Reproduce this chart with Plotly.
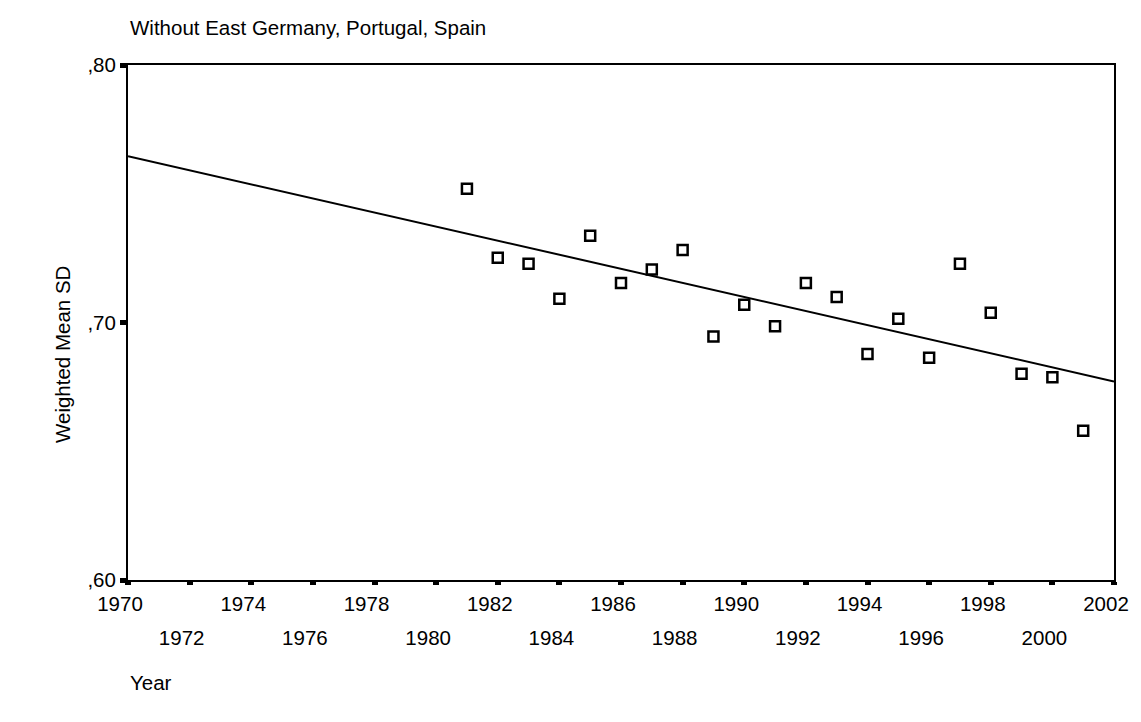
import numpy as np
import plotly.graph_objects as go

# ---- data ----
years = list(range(1981, 2002))
weighted_mean_sd = [0.7519, 0.7251, 0.7228, 0.7092, 0.7337, 0.7153, 0.7206, 0.7282,
                    0.6946, 0.7069, 0.6985, 0.7153, 0.7099, 0.6878, 0.7015, 0.6863,
                    0.7228, 0.7038, 0.6801, 0.6787, 0.6580]
x_range = [1970, 2002]
y_range = [0.60, 0.80]
x_ticks_row1 = [1970, 1974, 1978, 1982, 1986, 1990, 1994, 1998, 2002]
x_ticks_row2 = [1972, 1976, 1980, 1984, 1988, 1992, 1996, 2000]
y_tick_vals = [0.60, 0.70, 0.80]
y_tick_text = [",60", ",70", ",80"]
title_text = "Without East Germany, Portugal, Spain"
x_title = "Year"
y_title = "Weighted Mean SD"

# linear fit line
slope, intercept = np.polyfit(years, weighted_mean_sd, 1)
fit_x = x_range
fit_y = [slope * v + intercept for v in fit_x]

FONT = "Arial, Liberation Sans, sans-serif"
FS = 20.5
PAGE_MARGIN = 8  # default HTML body margin
W, H = 1141 - PAGE_MARGIN, 722 - PAGE_MARGIN

fig = go.Figure()
fig.add_trace(go.Scatter(x=fit_x, y=fit_y, mode="lines",
                         line=dict(color="black", width=2), showlegend=False,
                         hoverinfo="skip"))
fig.add_trace(go.Scatter(x=years, y=weighted_mean_sd, mode="markers",
                         marker=dict(symbol="square-open", size=10, color="black",
                                     line=dict(width=2.5, color="black")),
                         showlegend=False))
# invisible trace on the second x axis so its labels show
fig.add_trace(go.Scatter(x=x_range, y=y_range, xaxis="x2", mode="markers",
                         marker=dict(opacity=0), showlegend=False, hoverinfo="skip"))

all_ticks = sorted(x_ticks_row1 + x_ticks_row2)
row1_text = [str(v) if v in x_ticks_row1 else "" for v in all_ticks]

fig.update_layout(
    width=W, height=H,
    margin=dict(l=128 - PAGE_MARGIN, r=27, t=65 - PAGE_MARGIN, b=142),
    paper_bgcolor="white", plot_bgcolor="white",
    font=dict(family=FONT, size=FS, color="black"),
    title=dict(text=title_text, x=(130 - PAGE_MARGIN) / W, xanchor="left",
               y=1 - (28 - PAGE_MARGIN) / H, yanchor="middle", font=dict(size=FS)),
    xaxis=dict(range=x_range, tickmode="array", tickvals=all_ticks, ticktext=row1_text,
               showgrid=False, zeroline=False, showline=True, linecolor="black",
               linewidth=2, mirror=True, ticks="outside", ticklen=3, tickwidth=6,
               tickcolor="black", ticklabelshift=-8, ticklabelstandoff=1),
    xaxis2=dict(range=x_range, overlaying="x", anchor="y", side="bottom",
                tickmode="array", tickvals=x_ticks_row2,
                ticktext=[str(v) for v in x_ticks_row2],
                showgrid=False, zeroline=False, showline=False, ticks="",
                ticklabelshift=-8, ticklabelstandoff=43),
    yaxis=dict(range=y_range, tickmode="array", tickvals=y_tick_vals, ticktext=y_tick_text,
               showgrid=False, zeroline=False, showline=True, linecolor="black",
               linewidth=2, mirror=True, ticks="outside", ticklen=6, tickwidth=5,
               tickcolor="black"),
    annotations=[
        dict(text=y_title, xref="paper", yref="paper", x=(62 - 128) / 986,
             y=(580 - 355) / 515, textangle=-90, showarrow=False,
             xanchor="center", yanchor="middle", font=dict(size=FS)),
        dict(text=x_title, xref="paper", yref="paper", x=0, y=(580 - 682) / 515,
             showarrow=False, xanchor="left", yanchor="middle", font=dict(size=FS)),
    ],
)

fig.write_html("out.html")
